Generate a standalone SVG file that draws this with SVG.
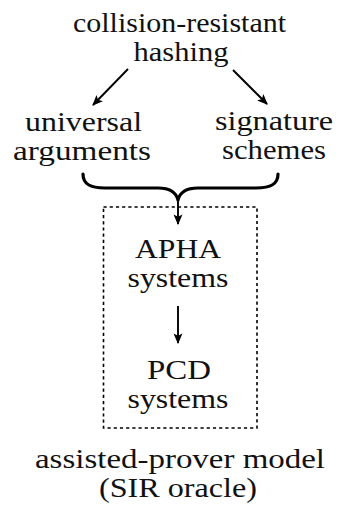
<svg xmlns="http://www.w3.org/2000/svg" width="340" height="509" viewBox="0 0 340 509">
  <style>
    text { font-family: 'Liberation Serif', 'DejaVu Serif', serif; font-size: 28px; fill: #111; text-anchor: middle; }
    .edge { stroke: #000; stroke-width: 1.9; fill: none; }
    .brace { stroke: #000; stroke-width: 3.2; fill: none; stroke-linecap: round; stroke-linejoin: round; }
    .frame { stroke: #000; stroke-width: 1.6; fill: none; stroke-dasharray: 3.2 3; }
  </style>
  <defs>
    <marker id="head" viewBox="0 0 10 10" refX="9" refY="5" markerWidth="5.6" markerHeight="5.6" orient="auto" markerUnits="strokeWidth">
      <path d="M0,0.8 L10,5 L0,9.2 L2.2,5 Z" fill="#000"/>
    </marker>
  </defs>

  <rect width="340" height="509" fill="#fff"/>

  <!-- dotted container -->
  <g id="frame">
    <rect class="frame" x="103.5" y="207" width="153.5" height="221"/>
  </g>

  <g id="crh" font-family="Liberation Serif">
    <text x="179.5" y="32" textLength="213" lengthAdjust="spacingAndGlyphs">collision-resistant</text>
    <text x="181" y="61" textLength="95" lengthAdjust="spacingAndGlyphs">hashing</text>
  </g>

  <g id="ua" font-family="Liberation Serif">
    <text x="83.5" y="131" textLength="117" lengthAdjust="spacingAndGlyphs">universal</text>
    <text x="82" y="160" textLength="138" lengthAdjust="spacingAndGlyphs">arguments</text>
  </g>

  <g id="sig" font-family="Liberation Serif">
    <text x="274" y="130" textLength="118" lengthAdjust="spacingAndGlyphs">signature</text>
    <text x="274" y="159" textLength="104" lengthAdjust="spacingAndGlyphs">schemes</text>
  </g>

  <g id="apha" font-family="Liberation Serif">
    <text x="178" y="258" textLength="86" lengthAdjust="spacingAndGlyphs">APHA</text>
    <text x="178" y="287" textLength="101" lengthAdjust="spacingAndGlyphs">systems</text>
  </g>

  <g id="pcd" font-family="Liberation Serif">
    <text x="179" y="379" textLength="64" lengthAdjust="spacingAndGlyphs">PCD</text>
    <text x="178" y="408" textLength="101" lengthAdjust="spacingAndGlyphs">systems</text>
  </g>

  <g id="model" font-family="Liberation Serif">
    <text x="180" y="468" textLength="290" lengthAdjust="spacingAndGlyphs">assisted-prover model</text>
    <text x="178" y="497" textLength="158" lengthAdjust="spacingAndGlyphs">(SIR oracle)</text>
  </g>

  <!-- connectors -->
  <g id="connectors">
    <line class="edge" x1="128" y1="69" x2="93" y2="105" marker-end="url(#head)"/>
    <line class="edge" x1="233" y1="70" x2="267" y2="104" marker-end="url(#head)"/>
    <path class="brace" d="M83,174 C83,184 90,188 105,188 L158,188 C170,188 176,192 178,200 C180,192 186,188 198,188 L256,188 C271,188 278,184 278,174"/>
    <line class="edge" x1="178" y1="199" x2="178" y2="224" marker-end="url(#head)"/>
    <line class="edge" x1="178" y1="306" x2="178" y2="343" marker-end="url(#head)"/>
  </g>
</svg>
